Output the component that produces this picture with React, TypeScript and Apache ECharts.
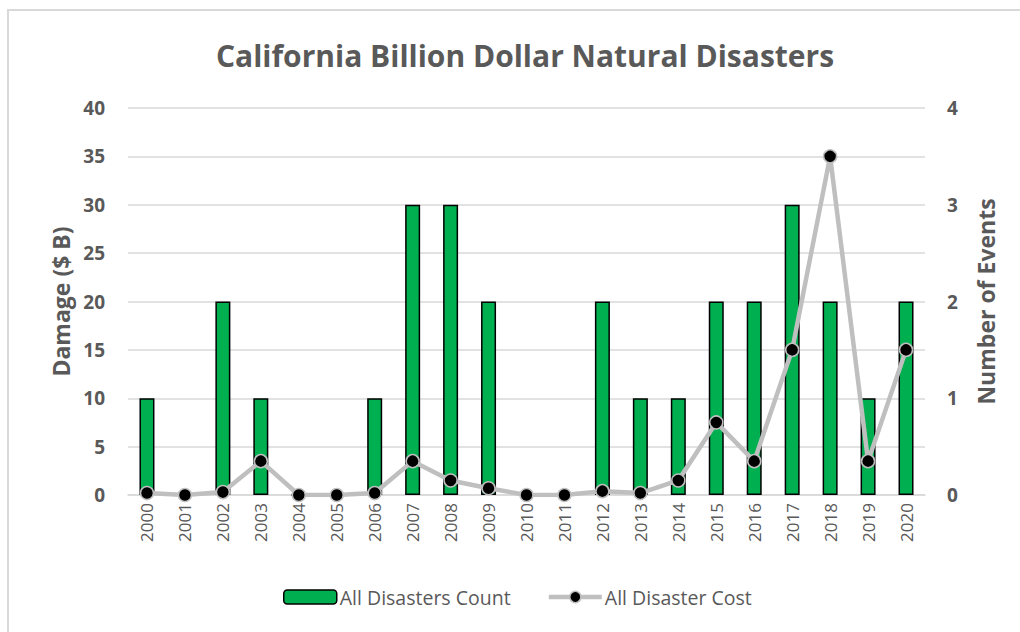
import React, { useEffect, useRef } from "react";
import * as echarts from "echarts";

const years = ["2000","2001","2002","2003","2004","2005","2006","2007","2008","2009","2010","2011","2012","2013","2014","2015","2016","2017","2018","2019","2020"];
const disasterCount = [1,0,2,1,0,0,1,3,3,2,0,0,2,1,1,2,2,3,2,1,2];
const disasterCost = [0.2,0,0.3,3.5,0,0,0.2,3.5,1.5,0.7,0,0,0.4,0.2,1.5,7.5,3.5,15,35,3.5,15];
const leftTicks = { min: 0, max: 40, interval: 5 };
const rightTicks = { min: 0, max: 4, interval: 1 };

export default function App() {
  const ref = useRef<HTMLDivElement>(null);
  useEffect(() => {
    if (!ref.current) return;
    const chart = echarts.init(ref.current, null, { renderer: "svg" });
    const font = "'Open Sans', 'Liberation Sans', sans-serif";
    chart.setOption({
      animation: false,
      textStyle: { fontFamily: font },
      title: {
        text: "California Billion Dollar Natural Disasters",
        left: 520,
        textAlign: "center",
        top: 35,
        textStyle: { fontSize: 30, fontWeight: "bold", color: "#595959", fontFamily: font },
      },
      graphic: [
        {
          type: "rect",
          shape: { x: 8, y: 10, width: 1100, height: 700 },
          style: { fill: "none", stroke: "#D9D9D9", lineWidth: 2 },
          silent: true,
        },
      ],
      grid: { left: 128, right: 95, top: 108, bottom: 137, containLabel: false },
      legend: {
        top: 582,
        left: 278,
        itemGap: 36,
        textStyle: { fontSize: 19.5, color: "#595959", fontFamily: font, padding: [0, 0, 0, -2] },
        data: [
          { name: "All Disasters Count", itemStyle: { color: "#00B050", borderColor: "#000", borderWidth: 1.5 } },
          {
            name: "All Disaster Cost",
            lineStyle: { color: "#BFBFBF", width: 4.5 },
            itemStyle: { color: "#000", borderColor: "#BFBFBF", borderWidth: 1.5 },
          },
        ],
        itemWidth: 53,
        itemHeight: 14,
      },
      xAxis: {
        type: "category",
        data: years,
        axisLine: { lineStyle: { color: "#D9D9D9", width: 1.5 } },
        axisTick: { show: false },
        axisLabel: { rotate: 90, fontSize: 17, color: "#595959", margin: 8, fontFamily: font },
      },
      yAxis: [
        {
          type: "value",
          ...leftTicks,
          name: "Damage ($ B)",
          nameLocation: "middle",
          nameGap: 56,
          nameTextStyle: { fontSize: 23, fontWeight: "bold", color: "#595959", fontFamily: font },
          axisLabel: { fontSize: 19, fontWeight: "bold", color: "#595959", margin: 23, fontFamily: font },
          splitLine: { lineStyle: { color: "#D9D9D9", width: 1.5 } },
          axisLine: { show: false },
          axisTick: { show: false },
        },
        {
          type: "value",
          ...rightTicks,
          name: "Number of Events",
          nameLocation: "middle",
          nameRotate: 90,
          nameGap: 49,
          nameTextStyle: { fontSize: 23, fontWeight: "bold", color: "#595959", fontFamily: font },
          axisLabel: { fontSize: 19, fontWeight: "bold", color: "#595959", margin: 22, fontFamily: font },
          splitLine: { show: false },
          axisLine: { show: false },
          axisTick: { show: false },
        },
      ],
      series: [
        {
          name: "All Disasters Count",
          type: "bar",
          yAxisIndex: 1,
          data: disasterCount,
          barWidth: 15,
          itemStyle: { color: "#00B050", borderColor: "#000", borderWidth: 1.5 },
          z: 2,
        },
        {
          name: "All Disaster Cost",
          type: "line",
          yAxisIndex: 0,
          data: disasterCost,
          symbol: "circle",
          symbolSize: 13,
          lineStyle: { color: "#BFBFBF", width: 4.5 },
          itemStyle: { color: "#000", borderColor: "#BFBFBF", borderWidth: 1.5 },
          z: 3,
        },
      ],
    });
    return () => chart.dispose();
  }, []);
  return (
    <div
      ref={ref}
      style={{ position: "absolute", left: 0, top: 0, width: 1020, height: 632, background: "#fff" }}
    />
  );
}
